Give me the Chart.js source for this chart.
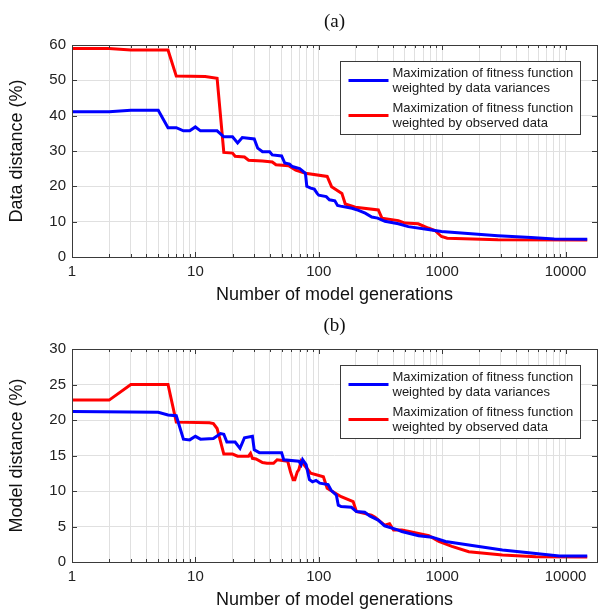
<!DOCTYPE html>
<html><head><meta charset="utf-8">
<script src="https://cdn.jsdelivr.net/npm/chart.js@4.4.1/dist/chart.umd.min.js"></script>
<style>
html,body{margin:0;padding:0;background:#fff;}
#wrap{position:relative;width:600px;height:609px;}
canvas{position:absolute;left:0;display:block;}
</style></head><body>
<div id="wrap">
<canvas id="ca" width="600" height="304" style="top:0"></canvas>
<canvas id="cb" width="600" height="305" style="top:304px"></canvas>
</div>
<script>
// ---- data ----
const panelTitles = ['(a)', '(b)'];
const yTitles = ['Data distance (%)', 'Model distance (%)'];
const xTitle = 'Number of model generations';
const xTickLabels = ['1', '10', '100', '1000', '10000'];
const yTicksA = [0, 10, 20, 30, 40, 50, 60];
const yTicksB = [0, 5, 10, 15, 20, 25, 30];
const seriesNames = [
  ['Maximization of fitness function', 'weighted by data variances'],
  ['Maximization of fitness function', 'weighted by observed data']
];

// (a) data distance, fitness weighted by data variances
const aVarX = [1,2,3,5,6,7,8,9,10,11,15,17,20,22,24,30,32,35,40,42,50,53,58,61,70,78,80,86,92,97,100,115,122,135,142,150,186,210,238,269,300,344,442,532,771,988,1520,2830,5260,8100,15000];
const aVarY = [41.1,41.1,41.5,41.5,36.6,36.6,35.7,35.7,36.8,35.7,35.7,34.0,34.0,32.3,33.8,33.4,30.8,29.8,29.8,28.9,28.6,26.6,26.3,25.6,25.0,23.7,20.0,19.5,19.2,18.0,17.5,17.1,16.2,15.9,14.6,14.4,13.8,13.2,12.4,11.3,11.0,10.1,9.4,8.6,7.8,7.2,6.7,6.0,5.5,5.1,5.0];
// (a) data distance, fitness weighted by observed data
const aObsX = [1,2,3,6,7,12,15,17,20,21,25,27,35,42,45,57,65,78,117,127,154,164,198,304,325,442,500,640,771,875,988,1100,2830,15000];
const aObsY = [59.0,59.0,58.6,58.6,51.2,51.1,50.6,29.6,29.4,28.5,28.3,27.4,27.2,26.9,26.1,25.8,24.6,23.7,22.8,19.9,18.0,15.0,14.1,13.3,11.0,10.3,9.6,9.4,8.2,7.5,5.8,5.3,4.9,4.8];
// (b) model distance, fitness weighted by data variances
const bVarX = [1,5,6,7,8,9,10,11,14,16,17,18,21,23,25,29,30,33,50,52,69,72,74,79,84,89,95,102,119,126,139,144,152,184,202,236,259,303,342,442,471,645,830,1065,1645,3080,5750,8900,15000];
const bVarY = [21.2,21.1,20.7,20.6,17.3,17.2,17.7,17.3,17.4,18.1,18.0,16.9,16.9,16.0,17.5,17.7,15.8,15.4,15.4,14.4,14.2,13.7,14.4,13.7,11.6,11.3,11.5,11.1,10.9,10.1,9.4,8.0,7.8,7.7,7.1,7.0,6.5,5.9,5.1,4.5,4.3,3.7,3.5,2.9,2.4,1.7,1.2,0.85,0.85];
// (b) model distance, fitness weighted by observed data
const bObsX = [1,2,3,6,7,13,14,15,17,20,22,27,28,29,31,35,38,43,46,56,59,62,64,67,69,72,76,86,109,117,152,190,202,267,286,342,375,404,472,540,780,940,1200,1645,3080,5750,15000];
const bObsY = [22.8,22.8,25.0,25.0,19.7,19.6,19.5,18.8,15.2,15.2,14.9,14.9,15.3,14.6,14.5,14.0,13.9,13.9,14.4,14.2,12.7,11.6,11.6,12.7,13.0,14.2,13.7,12.5,12.0,10.4,9.2,8.5,7.1,6.6,6.3,5.2,5.4,4.5,4.5,4.3,3.7,2.9,2.2,1.45,1.0,0.75,0.7];

const xMin = 1, xMax = 18000;
const colVar = '#0000ff', colObs = '#ff0000';

// ---- helpers ----
function pts(xs, ys) { return xs.map((x, i) => ({x: x, y: ys[i]})); }
function logGridValues(min, max) {
  const v = [];
  for (let d = 1; d <= max; d *= 10) for (let m = 1; m <= 9; m++) { const t = m * d; if (t >= min && t <= max) v.push(t); }
  return v;
}

const framePlugin = {
  id: 'frameTicks',
  afterDatasetsDraw(chart) {
    const {ctx, chartArea: a, scales: {x, y}} = chart;
    ctx.save();
    ctx.strokeStyle = '#3a3a3a';
    ctx.lineWidth = 1;
    ctx.beginPath();
    x.ticks.forEach(t => {
      const px = Math.round(x.getPixelForValue(t.value)) + 0.5;
      const major = xTickLabels.indexOf(String(t.value)) >= 0;
      const len = major ? 5 : 3;
      ctx.moveTo(px, a.bottom); ctx.lineTo(px, a.bottom - len);
      ctx.moveTo(px, a.top); ctx.lineTo(px, a.top + len);
    });
    y.ticks.forEach(t => {
      const py = Math.round(y.getPixelForValue(t.value)) + 0.5;
      ctx.moveTo(a.left, py); ctx.lineTo(a.left + 5, py);
      ctx.moveTo(a.right, py); ctx.lineTo(a.right - 5, py);
    });
    ctx.stroke();
    ctx.strokeRect(Math.round(a.left) + 0.5, Math.round(a.top) + 0.5, Math.round(a.right - a.left), Math.round(a.bottom - a.top));
    ctx.restore();
  }
};

const legendPlugin = {
  id: 'boxLegend',
  afterDatasetsDraw(chart) {
    const {ctx, chartArea: a} = chart;
    const bx = Math.round(a.left + 268) + 0.5, by = Math.round(a.top + 16) + 0.5, bw = 240, bh = 73;
    ctx.save();
    ctx.fillStyle = '#ffffff';
    ctx.fillRect(bx, by, bw, bh);
    ctx.strokeStyle = '#3a3a3a';
    ctx.lineWidth = 1;
    ctx.strokeRect(bx, by, bw, bh);
    ctx.font = '13px "Liberation Sans", Arial, sans-serif';
    ctx.fillStyle = '#1a1a1a';
    ctx.textBaseline = 'middle';
    ctx.textAlign = 'left';
    chart.data.datasets.forEach((ds, i) => {
      const top = by + i * 35;
      ctx.strokeStyle = ds.borderColor;
      ctx.lineWidth = 3;
      ctx.beginPath();
      ctx.moveTo(bx + 8, top + 19); ctx.lineTo(bx + 48, top + 19);
      ctx.stroke();
      ctx.fillText(ds.labelLines[0], bx + 52, top + 12);
      ctx.fillText(ds.labelLines[1], bx + 52, top + 27);
    });
    ctx.restore();
  }
};

function makeChart(id, idx, yMax, yTicks, varX, varY, obsX, obsY) {
  const gridVals = logGridValues(xMin, xMax);
  return new Chart(document.getElementById(id), {
    type: 'line',
    data: {
      datasets: [
        {label: seriesNames[0].join(' '), labelLines: seriesNames[0], data: pts(varX, varY), borderColor: colVar, borderWidth: 3, pointRadius: 0, tension: 0, fill: false},
        {label: seriesNames[1].join(' '), labelLines: seriesNames[1], data: pts(obsX, obsY), borderColor: colObs, borderWidth: 3, pointRadius: 0, tension: 0, fill: false}
      ]
    },
    options: {
      responsive: false,
      animation: false,
      events: [],
      layout: {padding: {left: 0, right: 3, top: 0, bottom: 0}},
      plugins: {
        legend: {display: false},
        tooltip: {enabled: false},
        title: {
          display: true, text: panelTitles[idx], fullSize: false,
          font: {family: '"Liberation Serif", "Times New Roman", serif', size: 19, weight: 'normal', lineHeight: 1.2},
          color: '#111', padding: {top: 11, bottom: 11.2}
        }
      },
      scales: {
        x: {
          type: 'logarithmic', min: xMin, max: xMax,
          afterBuildTicks(scale) { scale.ticks = gridVals.map(v => ({value: v})); },
          afterFit(scale) { scale.height = 47; },
          grid: {color: '#e0e0e0', lineWidth: 1, drawTicks: false},
          border: {display: false},
          ticks: {
            autoSkip: false, maxRotation: 0, padding: 6, color: '#222',
            font: {family: '"Liberation Sans", Arial, sans-serif', size: 15},
            callback(v) { const s = String(v); return xTickLabels.indexOf(s) >= 0 ? s : ''; }
          },
          title: {display: true, text: xTitle, color: '#111', padding: {top: 0, bottom: 0},
            font: {family: '"Liberation Sans", Arial, sans-serif', size: 18, lineHeight: 1}}
        },
        y: {
          type: 'linear', min: 0, max: yMax,
          afterBuildTicks(scale) { scale.ticks = yTicks.map(v => ({value: v})); },
          afterFit(scale) { scale.width = 72; },
          grid: {color: '#e0e0e0', lineWidth: 1, drawTicks: false},
          border: {display: false},
          ticks: {padding: 6, color: '#222', font: {family: '"Liberation Sans", Arial, sans-serif', size: 15}},
          title: {display: true, text: yTitles[idx], color: '#111', padding: {top: 8, bottom: 0},
            font: {family: '"Liberation Sans", Arial, sans-serif', size: 18, lineHeight: 1}}
        }
      }
    },
    plugins: [framePlugin, legendPlugin]
  });
}

makeChart('ca', 0, 60, yTicksA, aVarX, aVarY, aObsX, aObsY);
makeChart('cb', 1, 30, yTicksB, bVarX, bVarY, bObsX, bObsY);
</script>
</body></html>
